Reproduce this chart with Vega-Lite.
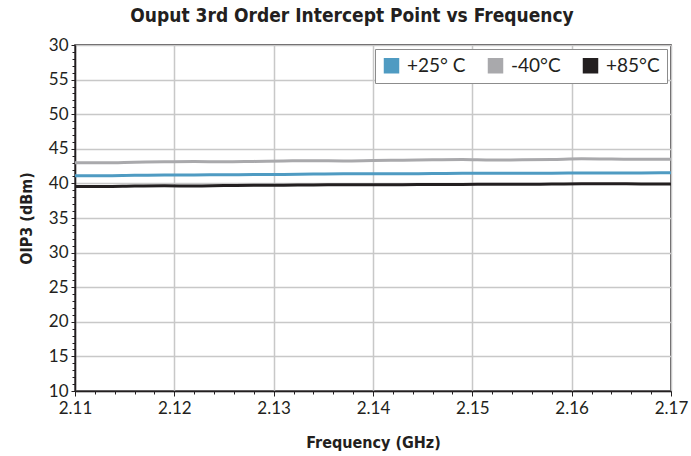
{
  "$schema": "https://vega.github.io/schema/vega-lite/v6.json",
  "width": 596,
  "height": 346,
  "autosize": {"type": "none"},
  "padding": {"left": 75, "top": 45, "right": 20, "bottom": 65},
  "background": "white",
  "title": {
    "text": "Ouput 3rd Order Intercept Point vs Frequency",
    "font": "DejaVu Sans Condensed",
    "fontSize": 19,
    "fontWeight": "bold",
    "color": "#231f20",
    "anchor": "middle",
    "dx": -21,
    "offset": 10
  },
  "config": {
    "view": {"stroke": "#231f20", "strokeWidth": 1.5},
    "axis": {
      "labelFont": "Lato",
      "labelFontSize": 17,
      "labelColor": "#231f20",
      "titleFont": "DejaVu Sans Condensed",
      "titleFontSize": 16,
      "titleFontWeight": "bold",
      "titleColor": "#231f20",
      "domainColor": "#231f20",
      "domainWidth": 1.5,
      "tickColor": "#231f20",
      "gridColor": "#c8c8c8",
      "gridWidth": 1.5
    }
  },
  "data": {
    "values": [
      {"f": 2.110, "t": "-40°C", "v": 43.00}, {"f": 2.113, "t": "-40°C", "v": 42.97}, {"f": 2.116, "t": "-40°C", "v": 43.05},
      {"f": 2.119, "t": "-40°C", "v": 43.12}, {"f": 2.122, "t": "-40°C", "v": 43.15}, {"f": 2.125, "t": "-40°C", "v": 43.12},
      {"f": 2.128, "t": "-40°C", "v": 43.18}, {"f": 2.131, "t": "-40°C", "v": 43.25}, {"f": 2.134, "t": "-40°C", "v": 43.28},
      {"f": 2.137, "t": "-40°C", "v": 43.25}, {"f": 2.140, "t": "-40°C", "v": 43.30}, {"f": 2.143, "t": "-40°C", "v": 43.35},
      {"f": 2.146, "t": "-40°C", "v": 43.42}, {"f": 2.149, "t": "-40°C", "v": 43.45}, {"f": 2.152, "t": "-40°C", "v": 43.38},
      {"f": 2.155, "t": "-40°C", "v": 43.40}, {"f": 2.158, "t": "-40°C", "v": 43.45}, {"f": 2.161, "t": "-40°C", "v": 43.55},
      {"f": 2.164, "t": "-40°C", "v": 43.52}, {"f": 2.167, "t": "-40°C", "v": 43.48}, {"f": 2.170, "t": "-40°C", "v": 43.50},
      {"f": 2.110, "t": "+25° C", "v": 41.12}, {"f": 2.113, "t": "+25° C", "v": 41.12}, {"f": 2.116, "t": "+25° C", "v": 41.18},
      {"f": 2.119, "t": "+25° C", "v": 41.20}, {"f": 2.122, "t": "+25° C", "v": 41.22}, {"f": 2.125, "t": "+25° C", "v": 41.25},
      {"f": 2.128, "t": "+25° C", "v": 41.28}, {"f": 2.131, "t": "+25° C", "v": 41.30}, {"f": 2.134, "t": "+25° C", "v": 41.35},
      {"f": 2.137, "t": "+25° C", "v": 41.38}, {"f": 2.140, "t": "+25° C", "v": 41.38}, {"f": 2.143, "t": "+25° C", "v": 41.40},
      {"f": 2.146, "t": "+25° C", "v": 41.42}, {"f": 2.149, "t": "+25° C", "v": 41.45}, {"f": 2.152, "t": "+25° C", "v": 41.45},
      {"f": 2.155, "t": "+25° C", "v": 41.48}, {"f": 2.158, "t": "+25° C", "v": 41.48}, {"f": 2.161, "t": "+25° C", "v": 41.50},
      {"f": 2.164, "t": "+25° C", "v": 41.52}, {"f": 2.167, "t": "+25° C", "v": 41.52}, {"f": 2.170, "t": "+25° C", "v": 41.55},
      {"f": 2.110, "t": "+85°C", "v": 39.55}, {"f": 2.113, "t": "+85°C", "v": 39.55}, {"f": 2.116, "t": "+85°C", "v": 39.62},
      {"f": 2.119, "t": "+85°C", "v": 39.65}, {"f": 2.122, "t": "+85°C", "v": 39.62}, {"f": 2.125, "t": "+85°C", "v": 39.68},
      {"f": 2.128, "t": "+85°C", "v": 39.72}, {"f": 2.131, "t": "+85°C", "v": 39.75}, {"f": 2.134, "t": "+85°C", "v": 39.78},
      {"f": 2.137, "t": "+85°C", "v": 39.80}, {"f": 2.140, "t": "+85°C", "v": 39.82}, {"f": 2.143, "t": "+85°C", "v": 39.82},
      {"f": 2.146, "t": "+85°C", "v": 39.85}, {"f": 2.149, "t": "+85°C", "v": 39.85}, {"f": 2.152, "t": "+85°C", "v": 39.88},
      {"f": 2.155, "t": "+85°C", "v": 39.88}, {"f": 2.158, "t": "+85°C", "v": 39.90}, {"f": 2.161, "t": "+85°C", "v": 39.95},
      {"f": 2.164, "t": "+85°C", "v": 39.95}, {"f": 2.167, "t": "+85°C", "v": 39.92}, {"f": 2.170, "t": "+85°C", "v": 39.92}
    ]
  },
  "mark": {"type": "line", "strokeWidth": 3, "interpolate": "monotone"},
  "encoding": {
    "x": {
      "field": "f",
      "type": "quantitative",
      "title": "Frequency (GHz)",
      "scale": {"domain": [2.11, 2.17], "nice": false, "zero": false},
      "axis": {
        "values": [2.11, 2.112, 2.114, 2.116, 2.118, 2.12, 2.122, 2.124, 2.126, 2.128, 2.13, 2.132, 2.134, 2.136, 2.138, 2.14, 2.142, 2.144, 2.146, 2.148, 2.15, 2.152, 2.154, 2.156, 2.158, 2.16, 2.162, 2.164, 2.166, 2.168, 2.17],
        "labelExpr": "round(datum.value * 1000) % 10 == 0 ? format(datum.value, '.2f') : ''",
        "tickSize": {"condition": {"test": "round(datum.value * 1000) % 10 == 0", "value": 5}, "value": 3},
        "gridOpacity": {"condition": {"test": "round(datum.value * 1000) % 10 == 0", "value": 1}, "value": 0},
        "labelPadding": 4,
        "labelFlush": false,
        "titlePadding": 18
      }
    },
    "y": {
      "field": "v",
      "type": "quantitative",
      "title": "OIP3 (dBm)",
      "scale": {"domain": [10, 60], "nice": false, "zero": false},
      "axis": {
        "values": [10, 11, 12, 13, 14, 15, 16, 17, 18, 19, 20, 21, 22, 23, 24, 25, 26, 27, 28, 29, 30, 31, 32, 33, 34, 35, 36, 37, 38, 39, 40, 41, 42, 43, 44, 45, 46, 47, 48, 49, 50, 51, 52, 53, 54, 55, 56, 57, 58, 59, 60],
        "labelExpr": "datum.value % 5 == 0 ? (datum.value == 60 ? '30' : datum.label) : ''",
        "tickSize": {"condition": {"test": "datum.value % 5 == 0", "value": 4}, "value": 3},
        "gridOpacity": {"condition": {"test": "datum.value % 5 == 0", "value": 1}, "value": 0},
        "labelPadding": 3,
        "labelFlush": false,
        "titlePadding": 14
      }
    },
    "color": {
      "field": "t",
      "type": "nominal",
      "scale": {"domain": ["+25° C", "-40°C", "+85°C"], "range": ["#4f9bc2", "#a9a9ac", "#231f20"]},
      "legend": {
        "title": null,
        "orient": "top-right",
        "direction": "horizontal",
        "offset": 4,
        "symbolType": "square",
        "symbolSize": 240,
        "symbolStrokeWidth": 0,
        "labelFont": "Lato",
        "labelFontSize": 19,
        "labelColor": "#231f20",
        "labelOffset": 6,
        "columnPadding": 20,
        "padding": 7,
        "strokeColor": "#8c8c8c",
        "fillColor": "white",
        "encode": {"symbols": {"update": {"fill": {"signal": "scale('color', datum.value)"}, "stroke": {"value": "transparent"}}}}
      }
    }
  }
}
